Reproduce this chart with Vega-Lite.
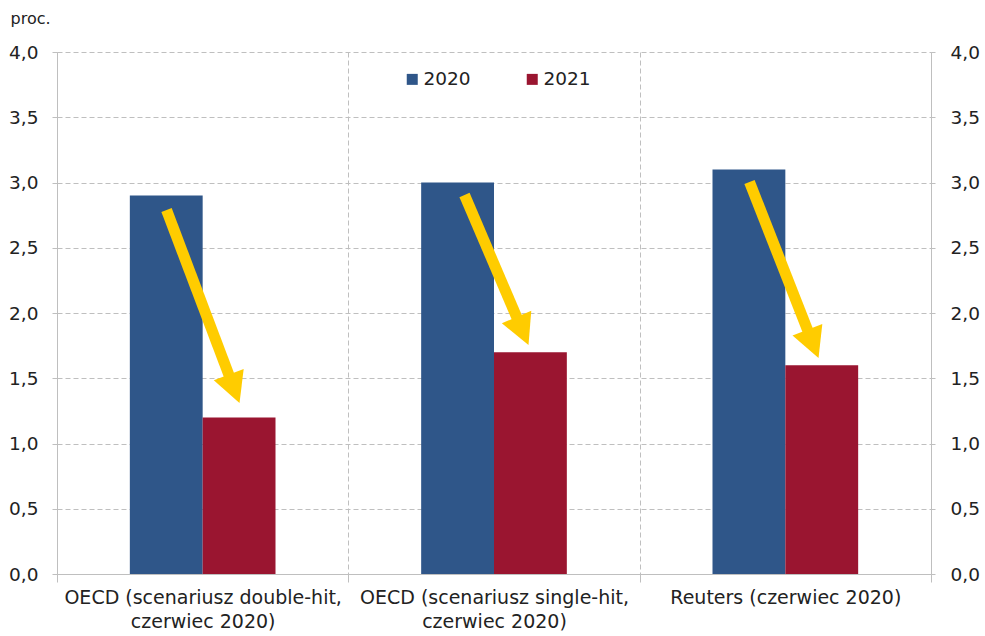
{
  "$schema": "https://vega.github.io/schema/vega-lite/v6.json",
  "width": 874,
  "height": 522,
  "autosize": {"type": "none"},
  "padding": {"left": 57, "top": 52, "right": 54, "bottom": 62},
  "background": "white",
  "config": {
    "font": "DejaVu Sans",
    "view": {"stroke": null}
  },
  "datasets": {
    "bars": [
      {"source": "OECD (scenariusz double-hit, czerwiec 2020)", "year": "2020", "value": 2.9},
      {"source": "OECD (scenariusz double-hit, czerwiec 2020)", "year": "2021", "value": 1.2},
      {"source": "OECD (scenariusz single-hit, czerwiec 2020)", "year": "2020", "value": 3.0},
      {"source": "OECD (scenariusz single-hit, czerwiec 2020)", "year": "2021", "value": 1.7},
      {"source": "Reuters (czerwiec 2020)", "year": "2020", "value": 3.1},
      {"source": "Reuters (czerwiec 2020)", "year": "2021", "value": 1.6}
    ],
    "arrows": [
      {"xs": 0.376, "ys": 2.789, "xe": 0.5997, "ye": 1.468, "xt": 0.6264, "yt": 1.31, "ang": 339.3},
      {"xs": 1.3988, "ys": 2.904, "xe": 1.589, "ye": 1.91, "xt": 1.6184, "yt": 1.755, "ang": 336.9},
      {"xs": 2.377, "ys": 3.004, "xe": 2.5864, "ye": 1.812, "xt": 2.6139, "yt": 1.655, "ang": 338.6}
    ]
  },
  "layer": [
    {
      "data": {"name": "bars"},
      "mark": {"type": "bar"},
      "encoding": {
        "x": {
          "field": "source", "type": "nominal", "sort": null,
          "scale": {"paddingInner": 0, "paddingOuter": 0},
          "axis": {
            "title": null, "tickBand": "extent", "grid": true, "gridDash": [5, 3], "gridColor": "#BFBFBF",
            "domainColor": "#BFBFBF", "tickColor": "#BFBFBF", "tickSize": 8, "labelAngle": 0,
            "labelPadding": 6, "labelFontSize": 19, "labelLineHeight": 24, "labelColor": "#222222",
            "labelLimit": 0, "labelOverlap": false,
            "labelExpr": "indexof(datum.label, ',') > 0 ? [substring(datum.label, 0, indexof(datum.label, ',') + 1), substring(datum.label, indexof(datum.label, ',') + 2)] : datum.label"
          }
        },
        "xOffset": {"field": "year", "type": "nominal", "scale": {"paddingInner": 0, "paddingOuter": 1}},
        "y": {
          "field": "value", "type": "quantitative",
          "scale": {"domain": [0, 4], "nice": false},
          "axis": {
            "title": "proc.", "titleAngle": 0, "titleAlign": "left", "titleBaseline": "alphabetic",
            "titleX": -47, "titleY": -29, "titleFontSize": 16, "titleFontWeight": "normal", "titleColor": "#222222",
            "values": [0, 0.5, 1, 1.5, 2, 2.5, 3, 3.5, 4],
            "labelExpr": "replace(format(datum.value, '.1f'), '.', ',')",
            "grid": true, "gridDash": [5, 3], "gridColor": "#BFBFBF",
            "domainColor": "#BFBFBF", "tickColor": "#BFBFBF", "tickSize": 5,
            "labelPadding": 14, "labelFontSize": 18.5, "labelColor": "#222222",
            "labelFlush": false, "labelOverlap": false
          }
        },
        "color": {
          "field": "year", "type": "nominal",
          "scale": {"range": ["#2F5689", "#9A1530"]},
          "legend": {
            "title": null, "orient": "none", "legendX": 346, "legendY": 18, "direction": "horizontal",
            "symbolType": "square", "symbolSize": 121, "symbolStrokeWidth": 0,
            "labelFontSize": 18.5, "labelOffset": 2, "columnPadding": 52, "padding": 0, "labelColor": "#222222"
          }
        }
      }
    },
    {
      "data": {"name": "arrows"},
      "mark": {"type": "rule", "color": "#FFCC00", "strokeWidth": 11, "strokeCap": "butt"},
      "encoding": {
        "x": {"field": "xs", "type": "quantitative", "scale": {"domain": [0, 3], "nice": false, "zero": false}, "axis": null},
        "x2": {"field": "xe"},
        "y": {
          "field": "ys", "type": "quantitative",
          "scale": {"domain": [0, 4], "nice": false},
          "axis": {
            "orient": "right", "title": null,
            "values": [0, 0.5, 1, 1.5, 2, 2.5, 3, 3.5, 4],
            "labelExpr": "replace(format(datum.value, '.1f'), '.', ',')",
            "grid": false, "domainColor": "#BFBFBF", "tickColor": "#BFBFBF", "tickSize": 4,
            "labelPadding": 15, "labelFontSize": 18.5, "labelColor": "#222222",
            "labelFlush": false, "labelOverlap": false
          }
        },
        "y2": {"field": "ye"}
      }
    },
    {
      "data": {"name": "arrows"},
      "mark": {"type": "point", "shape": "M0,0 L-1,-1.9 L1,-1.9 Z", "filled": true, "fill": "#FFCC00", "strokeWidth": 0, "size": 1024, "opacity": 1},
      "encoding": {
        "x": {"field": "xt", "type": "quantitative", "scale": {"domain": [0, 3], "nice": false, "zero": false}, "axis": null},
        "y": {"field": "yt", "type": "quantitative", "scale": {"domain": [0, 4], "nice": false}, "axis": null},
        "angle": {"field": "ang", "type": "quantitative", "scale": null}
      }
    }
  ],
  "resolve": {"scale": {"x": "independent"}, "axis": {"x": "independent", "y": "independent"}}
}
